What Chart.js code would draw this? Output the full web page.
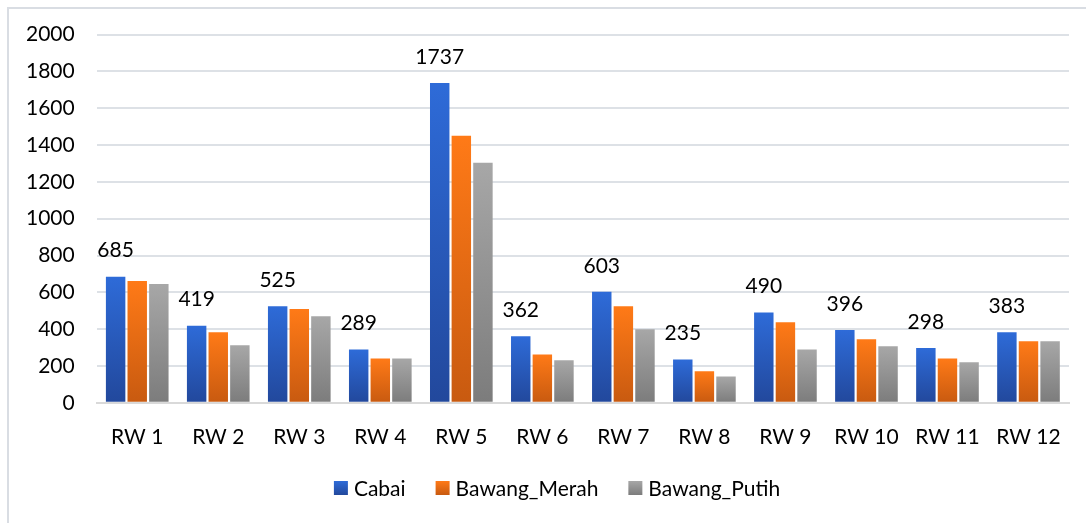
<!DOCTYPE html>
<html>
<head>
<meta charset="utf-8">
<script src="https://cdn.jsdelivr.net/npm/chart.js@4.4.1/dist/chart.umd.min.js"></script>
<style>
  html, body { margin:0; padding:0; background:#fff; }
  #wrap { position:relative; width:1086px; height:523px; }
</style>
</head>
<body>
<div id="wrap"><canvas id="chart"></canvas></div>
<script>
// ── data ─────────────────────────────────────────────────────────────────────
const LABELS = ["RW 1","RW 2","RW 3","RW 4","RW 5","RW 6","RW 7","RW 8","RW 9","RW 10","RW 11","RW 12"];
const CABAI = [685, 419, 525, 289, 1737, 362, 603, 235, 490, 396, 298, 383];
const BAWANG_MERAH = [661, 383, 509, 241, 1451, 263, 525, 171, 438, 345, 241, 334];
const BAWANG_PUTIH = [645, 312, 470, 241, 1304, 231, 400, 143, 290, 307, 220, 334];
const Y_TICKS = [0, 200, 400, 600, 800, 1000, 1200, 1400, 1600, 1800, 2000];

const FONT = "Lato, 'Noto Sans', sans-serif";
Chart.defaults.font.family = FONT;
Chart.defaults.font.size = 21;
Chart.defaults.color = "#000";

const SWATCH = [["#2e6bd8","#22489c"], ["#ff7a17","#c85a10"], ["#a7a7a7","#7c7c7c"]];

// per-bar vertical gradient, like the Office fill
function grad(top, bottom) {
  return ctx => {
    const ys = ctx.chart.scales.y;
    if (!ys || ctx.raw == null) return top;
    const y0 = ys.getPixelForValue(ctx.raw), y1 = ys.getPixelForValue(0);
    if (!isFinite(y0) || !isFinite(y1) || y1 - y0 < 1) return top;
    const g = ctx.chart.ctx.createLinearGradient(0, y0, 0, y1);
    g.addColorStop(0, top);
    g.addColorStop(1, bottom);
    return g;
  };
}

// frame lines, labels above the Cabai bars, legend row
const extras = {
  id: "extras",
  beforeDraw(chart) {
    const c = chart.ctx;
    c.save();
    c.strokeStyle = "#d9dde3";
    c.lineWidth = 2;
    c.beginPath();
    c.moveTo(8, 530); c.lineTo(8, 8); c.lineTo(1090, 8);
    c.stroke();
    c.restore();
  },
  afterDatasetsDraw(chart) {
    const c = chart.ctx;
    const meta = chart.getDatasetMeta(0);
    c.save();
    c.font = "21px " + FONT;
    c.fillStyle = "#000";
    c.textAlign = "center";
    c.textBaseline = "middle";
    meta.data.forEach((bar, i) => {
      c.fillText(String(CABAI[i]), bar.x, bar.y - 26);
    });

    // legend
    const box = 14, gapTxt = 6, gapItem = 30, y = 488;
    const items = chart.data.datasets.map(d => d.label);
    const widths = items.map(t => c.measureText(t).width);
    const total = widths.reduce((s, w) => s + box + gapTxt + w, 0) + gapItem * (items.length - 1);
    let x = chart.width / 2 + 14 - total / 2;
    c.textAlign = "left";
    items.forEach((t, i) => {
      const g = c.createLinearGradient(0, y - box / 2, 0, y + box / 2);
      g.addColorStop(0, SWATCH[i][0]); g.addColorStop(1, SWATCH[i][1]);
      c.fillStyle = g;
      c.fillRect(x, y - box / 2, box, box);
      c.fillStyle = "#000";
      c.fillText(t, x + box + gapTxt, y + 1);
      x += box + gapTxt + widths[i] + gapItem;
    });
    c.restore();
  }
};

new Chart(document.getElementById("chart"), {
  type: "bar",
  data: {
    labels: LABELS,
    datasets: [
      { label:"Cabai", data:CABAI, backgroundColor:grad(...SWATCH[0]) },
      { label:"Bawang_Merah", data:BAWANG_MERAH, backgroundColor:grad(...SWATCH[1]) },
      { label:"Bawang_Putih", data:BAWANG_PUTIH, backgroundColor:grad(...SWATCH[2]) },
    ]
  },
  options: {
    responsive:true, maintainAspectRatio:false, animation:false,
    layout:{ padding:{ left:4, right:17, top:27, bottom:59 } },
    datasets:{ bar:{ categoryPercentage:0.8, barPercentage:0.9 } },
    plugins:{
      legend:{ display:false },
      tooltip:{ enabled:false }
    },
    scales:{
      x:{
        grid:{ display:false },
        border:{ color:"#d9d9d9", width:2 },
        ticks:{ color:"#000", padding:14, maxRotation:0 }
      },
      y:{
        min:0, max:2000,
        afterBuildTicks: ax => { ax.ticks = Y_TICKS.map(v => ({ value:v })); },
        grid:{ color:"#dde1e6", lineWidth:2, drawTicks:false },
        border:{ display:false },
        ticks:{ color:"#000", padding:22, callback: v => String(v) }
      }
    }
  },
  plugins:[extras]
});
</script>
</body>
</html>
